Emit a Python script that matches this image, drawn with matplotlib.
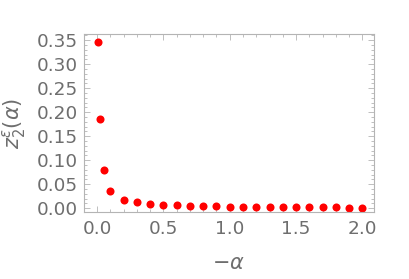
import matplotlib
matplotlib.use('Agg')
import matplotlib.pyplot as plt
from matplotlib.ticker import MultipleLocator

# data
neg_alpha = [0.01, 0.02, 0.05, 0.1, 0.2, 0.3, 0.4, 0.5, 0.6, 0.7, 0.8, 0.9, 1.0,
             1.1, 1.2, 1.3, 1.4, 1.5, 1.6, 1.7, 1.8, 1.9, 2.0]
z2 = [0.346, 0.185, 0.079, 0.036, 0.018, 0.012, 0.009, 0.007, 0.006, 0.005, 0.004,
      0.004, 0.003, 0.003, 0.003, 0.002, 0.002, 0.002, 0.002, 0.002, 0.002, 0.001, 0.001]

gray = '#6e6e6e'
frame = '#b4b4b4'

fig = plt.figure(figsize=(4.09, 2.79), dpi=100)
ax = fig.add_axes([0.205, 0.240, 0.709, 0.638])

ax.plot(neg_alpha, z2, 'o', color='red', markersize=5.8, markeredgewidth=0)

ax.set_xlim(-0.1, 2.086)
ax.set_ylim(-0.008, 0.363)
ax.xaxis.set_major_locator(MultipleLocator(0.5))
ax.xaxis.set_minor_locator(MultipleLocator(0.1))
ax.yaxis.set_major_locator(MultipleLocator(0.05))
ax.yaxis.set_minor_locator(MultipleLocator(0.01))
ax.xaxis.set_major_formatter(matplotlib.ticker.FormatStrFormatter('%.1f'))
ax.yaxis.set_major_formatter(matplotlib.ticker.FormatStrFormatter('%.2f'))

for s in ax.spines.values():
    s.set_color(frame)
    s.set_linewidth(0.8)
ax.tick_params(which='both', direction='in', top=True, right=True,
               color=frame, labelcolor=gray, labelsize=13.3, width=0.6)
ax.tick_params(which='major', length=4)
ax.tick_params(which='minor', length=2)
ax.tick_params(axis='x', pad=6)
ax.tick_params(axis='y', pad=4)

ax.set_xlabel(r'$-\alpha$', color=gray, fontsize=15, va='center')
ax.set_ylabel(r'$z_2^{\varepsilon}(\alpha)$', color=gray, fontsize=15, va='center')
ax.xaxis.set_label_coords(0.5, -0.287)
ax.yaxis.set_label_coords(-0.24, 0.5)

fig.savefig('out.png', dpi=100)
